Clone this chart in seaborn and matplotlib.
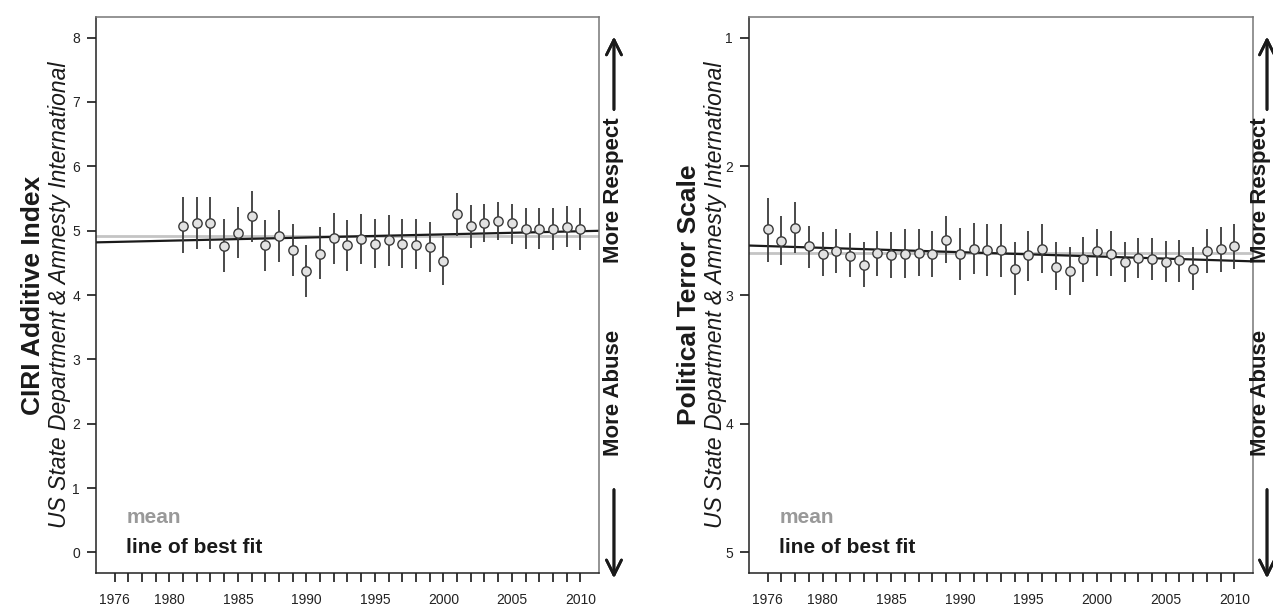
import numpy as np
import pandas as pd
import seaborn as sns
import matplotlib.pyplot as plt

# 1. Data
ciri_years = list(range(1981, 2011))
ciri_score = [5.08, 5.12, 5.12, 4.76, 4.97, 5.22, 4.77, 4.92, 4.70, 4.37,
              4.64, 4.88, 4.78, 4.87, 4.80, 4.85, 4.80, 4.78, 4.75, 4.53,
              5.26, 5.07, 5.12, 5.15, 5.12, 5.03, 5.03, 5.02, 5.06, 5.03]
ciri_low = [4.65, 4.72, 4.72, 4.35, 4.57, 4.82, 4.37, 4.52, 4.30, 3.97,
            4.25, 4.48, 4.38, 4.48, 4.42, 4.45, 4.42, 4.40, 4.36, 4.15,
            4.92, 4.73, 4.82, 4.85, 4.80, 4.72, 4.72, 4.70, 4.75, 4.70]
ciri_high = [5.52, 5.52, 5.52, 5.18, 5.37, 5.62, 5.17, 5.32, 5.10, 4.78,
             5.05, 5.28, 5.17, 5.26, 5.18, 5.24, 5.18, 5.18, 5.14, 4.92,
             5.58, 5.40, 5.42, 5.45, 5.42, 5.35, 5.35, 5.35, 5.38, 5.35]

pts_years = list(range(1976, 2011))
pts_score = [2.49, 2.58, 2.48, 2.62, 2.68, 2.66, 2.70, 2.77, 2.67, 2.69,
             2.68, 2.67, 2.68, 2.57, 2.68, 2.64, 2.65, 2.65, 2.80, 2.69,
             2.64, 2.78, 2.81, 2.72, 2.66, 2.68, 2.74, 2.71, 2.72, 2.74,
             2.73, 2.80, 2.66, 2.64, 2.62]
pts_low = [2.25, 2.39, 2.28, 2.46, 2.51, 2.49, 2.52, 2.59, 2.50, 2.51,
           2.49, 2.49, 2.50, 2.39, 2.48, 2.44, 2.45, 2.45, 2.59, 2.50,
           2.45, 2.59, 2.63, 2.55, 2.49, 2.50, 2.59, 2.56, 2.56, 2.58,
           2.57, 2.63, 2.49, 2.47, 2.45]
pts_high = [2.74, 2.77, 2.67, 2.79, 2.85, 2.83, 2.86, 2.94, 2.85, 2.87,
            2.87, 2.85, 2.86, 2.75, 2.88, 2.84, 2.85, 2.86, 3.00, 2.89,
            2.83, 2.96, 3.00, 2.90, 2.85, 2.85, 2.90, 2.87, 2.88, 2.90,
            2.90, 2.96, 2.83, 2.82, 2.80]

year_labels = [1976, 1980, 1985, 1990, 1995, 2000, 2005, 2010]

ciri = pd.DataFrame({"Year": ciri_years, "Score": ciri_score, "Low": ciri_low, "High": ciri_high})
pts = pd.DataFrame({"Year": pts_years, "Score": pts_score, "Low": pts_low, "High": pts_high})

# 2. Style
sns.set_theme(style="ticks")
plt.rcParams['font.family'] = ['Liberation Sans', 'DejaVu Sans']
plt.rcParams['xtick.major.size'] = 6.5
plt.rcParams['ytick.major.size'] = 6.5

fig = plt.figure(figsize=(12.73, 6.07), dpi=100)
ax1 = fig.add_axes([0.0754, 0.056, 0.3951, 0.916])
ax2 = fig.add_axes([0.5884, 0.056, 0.3959, 0.916])


def draw_panel(ax, df, ylim, yticks):
    ax.vlines(df["Year"], df["Low"], df["High"], color="#3a3a3a", lw=1.3, zorder=2)
    # mean and line of best fit
    ax.axhline(df["Score"].mean(), color="#c4c4c4", lw=2, zorder=1)
    slope, icpt = np.polyfit(df["Year"], df["Score"], 1)
    ax.axline((2000, icpt + slope * 2000), slope=slope, color="#1a1a1a", lw=1.6, zorder=1.5)
    sns.scatterplot(data=df, x="Year", y="Score", ax=ax, s=45, color="#e2e2e2",
                    edgecolor="#3a3a3a", linewidth=1.0, zorder=3)
    ax.set_xlim(1974.64, 2011.36)
    ax.set_ylim(*ylim)
    ax.set_yticks(yticks)
    ax.set_xticks(list(range(1976, 2011)))
    ax.set_xticklabels([str(y) if y in year_labels else "" for y in range(1976, 2011)])
    ax.tick_params(labelsize=10, colors="#222222", pad=5)
    ax.tick_params(axis="x", pad=8)
    ax.set_xlabel("")
    ax.set_ylabel("")
    for side in ["left", "bottom"]:
        ax.spines[side].set_color("#222222")
    for side in ["top", "right"]:
        ax.spines[side].set_color("#777777")
    for side in ax.spines:
        ax.spines[side].set_visible(True)
        ax.spines[side].set_linewidth(1.1)
    ax.text(0.06, 0.1, "mean", transform=ax.transAxes, color="#999999",
            fontsize=15, fontweight="bold", va="center")
    ax.text(0.06, 0.045, "line of best fit", transform=ax.transAxes, color="#1a1a1a",
            fontsize=15, fontweight="bold", va="center")


draw_panel(ax1, ciri, (-0.32, 8.32), list(range(0, 9)))
draw_panel(ax2, pts, (5.16, 0.84), [1, 2, 3, 4, 5])

# 3. Axis titles and direction notes
for x0, title in [(0.026, "CIRI Additive Index"), (0.5414, "Political Terror Scale")]:
    fig.text(x0, 0.514, title, rotation=90, ha="center", va="center",
             fontsize=19, fontweight="bold", color="#1a1a1a")
    fig.text(x0 + 0.0205, 0.514, "US State Department & Amnesty International", rotation=90,
             ha="center", va="center", fontsize=16.5, fontstyle="italic", color="#1a1a1a")

for xn, xa in [(0.4823, 0.4823), (0.9905, 0.9953)]:
    fig.text(xn, 0.687, "More Respect", rotation=90, ha="center", va="center",
             fontsize=16, fontweight="bold", color="#1a1a1a")
    fig.text(xn, 0.3526, "More Abuse", rotation=90, ha="center", va="center",
             fontsize=16, fontweight="bold", color="#1a1a1a")
    fig.add_artist(plt.annotate("", xy=(xa, 0.944), xytext=(xa, 0.815), xycoords="figure fraction",
                                arrowprops=dict(arrowstyle="->,head_length=0.9,head_width=0.45",
                                                lw=2, color="#1a1a1a")))
    fig.add_artist(plt.annotate("", xy=(xa, 0.043), xytext=(xa, 0.198), xycoords="figure fraction",
                                arrowprops=dict(arrowstyle="->,head_length=0.9,head_width=0.45",
                                                lw=2, color="#1a1a1a")))

plt.savefig("out.png", dpi=100)
